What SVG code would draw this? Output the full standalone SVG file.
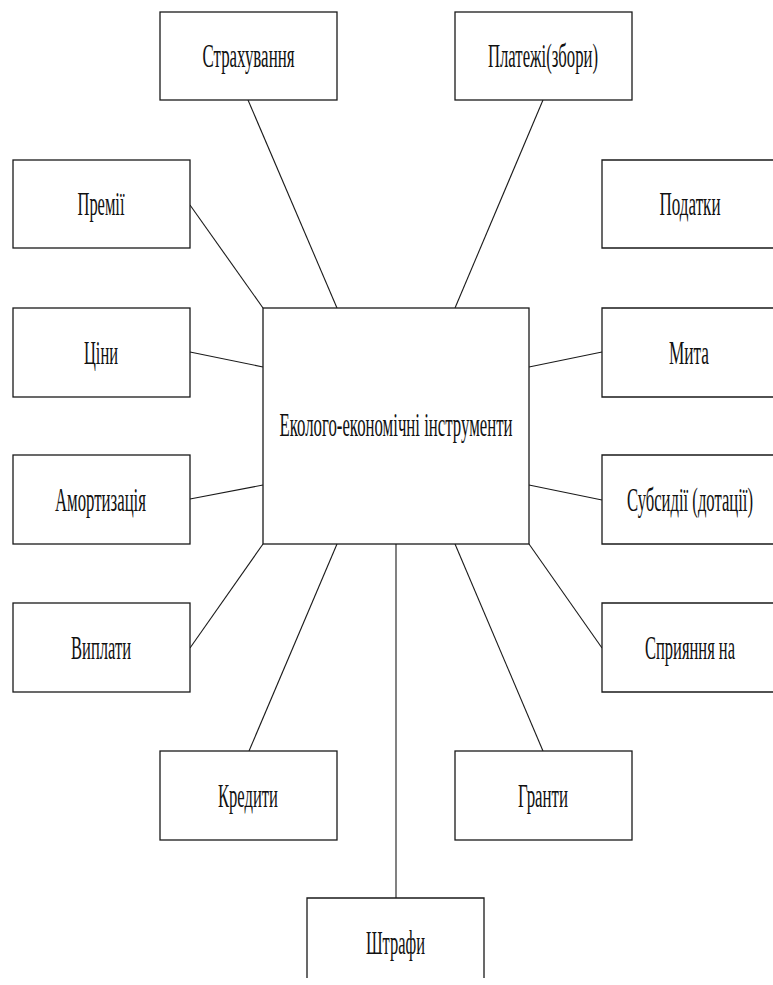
<svg xmlns="http://www.w3.org/2000/svg" width="773" height="985" viewBox="0 0 773 985">
<style>
.box{fill:#fff;stroke:#1a1a1a;stroke-width:1.3}
.lbl{font-family:"Liberation Serif","Times New Roman",serif;font-size:34px;fill:#111;text-anchor:middle}
.con line{stroke:#1a1a1a;stroke-width:1.1}
</style>
<rect width="773" height="985" fill="#fff"/>
<g id="connectors" class="con">
<line x1="248" y1="100" x2="337" y2="308"/>
<line x1="543" y1="100" x2="455" y2="308"/>
<line x1="190" y1="205" x2="263" y2="308"/>
<line x1="190" y1="352" x2="263" y2="367"/>
<line x1="529" y1="367" x2="602" y2="352"/>
<line x1="190" y1="499" x2="263" y2="485"/>
<line x1="529" y1="485" x2="602" y2="500"/>
<line x1="190" y1="648" x2="263" y2="544"/>
<line x1="529" y1="544" x2="602" y2="648"/>
<line x1="337" y1="544" x2="249" y2="751"/>
<line x1="455" y1="544" x2="543" y2="751"/>
<line x1="396" y1="544" x2="396" y2="898"/>
</g>
<g id="center"><rect class="box" x="263" y="308" width="266" height="236"/><text class="lbl" x="396" y="436" textLength="233" lengthAdjust="spacingAndGlyphs">Еколого-економічні інструменти</text></g>
<g id="strakhuvannia"><rect class="box" x="160" y="12" width="177" height="88"/><text class="lbl" x="248.5" y="67" textLength="92" lengthAdjust="spacingAndGlyphs">Страхування</text></g>
<g id="platezhi"><rect class="box" x="455" y="12" width="177" height="88"/><text class="lbl" x="543" y="67" textLength="110" lengthAdjust="spacingAndGlyphs">Платежі(збори)</text></g>
<g id="premii"><rect class="box" x="13" y="160" width="177" height="88"/><text class="lbl" x="101" y="215" textLength="47" lengthAdjust="spacingAndGlyphs">Премії</text></g>
<g id="podatky"><path class="box" d="M773,160 H602 V248 H773"/><text class="lbl" x="690" y="215" textLength="61" lengthAdjust="spacingAndGlyphs">Податки</text></g>
<g id="tsiny"><rect class="box" x="13" y="308" width="177" height="89"/><text class="lbl" x="101" y="364" textLength="34" lengthAdjust="spacingAndGlyphs">Ціни</text></g>
<g id="myta"><path class="box" d="M773,308 H602 V397 H773"/><text class="lbl" x="689" y="364" textLength="40" lengthAdjust="spacingAndGlyphs">Мита</text></g>
<g id="amortyzatsiia"><rect class="box" x="13" y="455" width="177" height="89"/><text class="lbl" x="100.5" y="511" textLength="91" lengthAdjust="spacingAndGlyphs">Амортизація</text></g>
<g id="subsydii"><path class="box" d="M773,455 H602 V544 H773"/><text class="lbl" x="690" y="511" textLength="126" lengthAdjust="spacingAndGlyphs">Субсидії (дотації)</text></g>
<g id="vyplaty"><rect class="box" x="13" y="603" width="177" height="89"/><text class="lbl" x="101" y="659" textLength="60" lengthAdjust="spacingAndGlyphs">Виплати</text></g>
<g id="spryiannia"><path class="box" d="M773,603 H602 V692 H773"/><text class="lbl" x="690" y="659" textLength="90" lengthAdjust="spacingAndGlyphs">Сприяння на</text></g>
<g id="kredyty"><rect class="box" x="160" y="751" width="177" height="89"/><text class="lbl" x="248" y="807" textLength="60" lengthAdjust="spacingAndGlyphs">Кредити</text></g>
<g id="granty"><rect class="box" x="455" y="751" width="177" height="89"/><text class="lbl" x="543" y="807" textLength="50" lengthAdjust="spacingAndGlyphs">Гранти</text></g>
<g id="shtrafy"><path class="box" d="M307,978 V898 H484 V978"/><text class="lbl" x="395.5" y="954" textLength="59" lengthAdjust="spacingAndGlyphs">Штрафи</text></g>
</svg>
